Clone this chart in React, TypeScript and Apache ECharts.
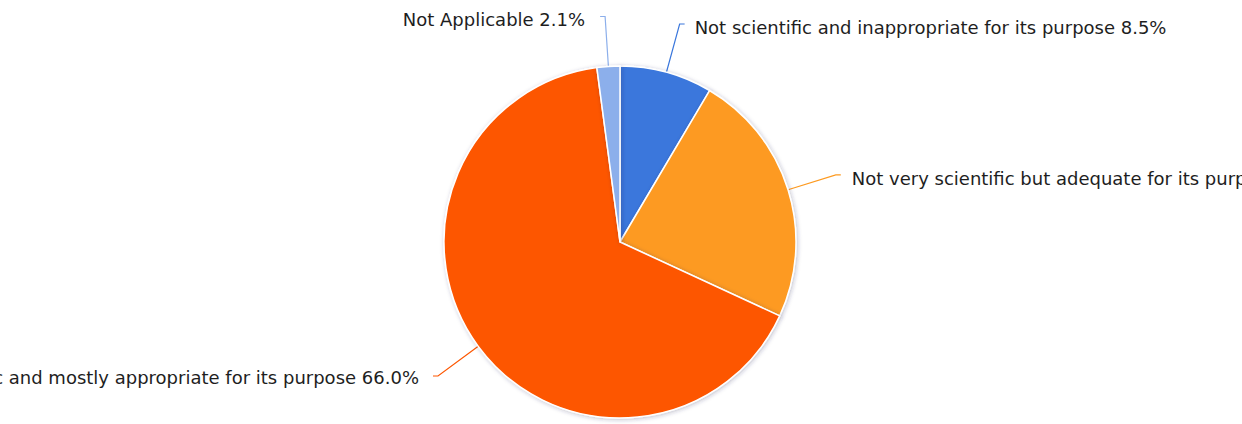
import React, { useEffect, useRef } from "react";
import * as echarts from "echarts";

// Survey answers, in percent, clockwise from twelve o'clock
const categories = [
  "Not scientific and inappropriate for its purpose",
  "Not very scientific but adequate for its purpose",
  "Scientific and mostly appropriate for its purpose",
  "Not Applicable",
];
const shares = [8.5, 23.4, 66.0, 2.1];
const sliceColors = ["#3a77dc", "#fd9a20", "#fd5600", "#8cafeb"];
// small nudges of each label's text away from its leader line's tip
const labelDrop = [3, 4, 2, 3];
const labelShift = [0, 1, -4, -5];

const VIEW_W = 1242;
const VIEW_H = 424;
const OFFSET = 420; // chart canvas extends beyond the visible frame on both sides

export default function App() {
  const ref = useRef<HTMLDivElement>(null);

  useEffect(() => {
    if (!ref.current) return;
    const chart = echarts.init(ref.current, undefined, { renderer: "svg" });
    chart.setOption({
      animation: false,
      backgroundColor: "#ffffff",
      series: [
        {
          type: "pie",
          center: [OFFSET + 620, 242],
          radius: 176,
          startAngle: 90,
          clockwise: true,
          avoidLabelOverlap: false,
          data: categories.map((name, i) => ({
            name,
            value: shares[i],
            itemStyle: { color: sliceColors[i] },
            labelLine: { lineStyle: { color: sliceColors[i] } },
          })),
          itemStyle: {
            borderColor: "#ffffff",
            borderWidth: 1.5,
            shadowBlur: 4,
            shadowColor: "rgba(40,50,90,0.3)",
            shadowOffsetX: 1,
            shadowOffsetY: 1,
          },
          label: {
            show: true,
            position: "outside",
            formatter: (p: any) => `${p.name} ${Number(p.value).toFixed(1)}%`,
            fontFamily: "'DejaVu Sans', sans-serif",
            fontSize: 18,
            color: "#1e1e1e",
            distanceToLabelLine: 10,
          },
          labelLayout: (p: any) => ({
            dx: labelShift[p.dataIndex],
            dy: labelDrop[p.dataIndex],
          }),
          labelLine: {
            show: true,
            length: 50,
            length2: 5,
            smooth: false,
            lineStyle: { width: 1.2 },
          },
          emphasis: { disabled: true },
        },
      ],
    });
    return () => chart.dispose();
  }, []);

  return (
    <div
      style={{
        position: "fixed",
        left: 0,
        top: 0,
        width: VIEW_W,
        height: VIEW_H,
        overflow: "hidden",
        background: "#ffffff",
      }}
    >
      <div
        ref={ref}
        style={{
          position: "absolute",
          left: -OFFSET,
          top: 0,
          width: VIEW_W + 2 * OFFSET,
          height: VIEW_H,
        }}
      />
    </div>
  );
}
